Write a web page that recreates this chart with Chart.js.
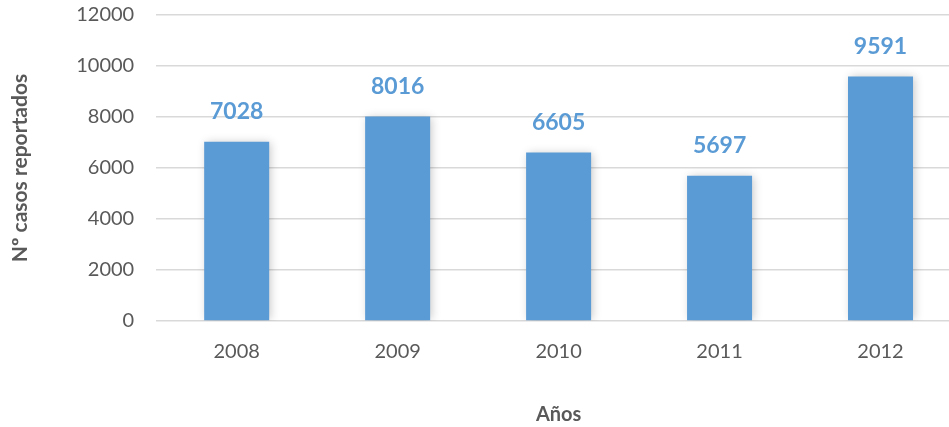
<!DOCTYPE html>
<html>
<head>
<meta charset="utf-8">
<script src="https://cdn.jsdelivr.net/npm/chart.js@4"></script>
<style>
  html, body { margin: 0; padding: 0; background: #fff; }
  #wrap { width: 949px; height: 427px; overflow: hidden; position: relative; }
  #inner { position: absolute; left: 0; top: -19px; width: 965px; height: 446px; }
</style>
</head>
<body>
<div id="wrap"><div id="inner"><canvas id="chart"></canvas></div></div>
<script>
// data
const years = ["2008", "2009", "2010", "2011", "2012"];
const casos = [7028, 8016, 6605, 5697, 9591];
const yTicks = [0, 2000, 4000, 6000, 8000, 10000, 12000];

const barColor = "#5B9BD5";
const textColor = "#595959";
const fontFamily = "Lato, 'Open Sans', sans-serif";

// soft shadow behind the bars
const barShadow = {
  id: "barShadow",
  beforeDatasetsDraw(chart) {
    const ctx = chart.ctx;
    ctx.save();
    ctx.shadowColor = "rgba(0,0,0,0.22)";
    ctx.shadowBlur = 9;
    ctx.shadowOffsetX = 2;
    ctx.shadowOffsetY = 0;
  },
  afterDatasetsDraw(chart) {
    chart.ctx.restore();
  },
};

// value labels above bars
const valueLabels = {
  id: "valueLabels",
  afterDatasetsDraw(chart) {
    const ctx = chart.ctx;
    const meta = chart.getDatasetMeta(0);
    ctx.save();
    ctx.fillStyle = barColor;
    ctx.font = "bold 23px " + fontFamily;
    ctx.textAlign = "center";
    ctx.textBaseline = "middle";
    meta.data.forEach((bar, i) => {
      ctx.fillText(String(casos[i]), bar.x, bar.y - 30);
    });
    ctx.restore();
  },
};

new Chart(document.getElementById("chart"), {
  type: "bar",
  data: {
    labels: years,
    datasets: [
      {
        data: casos,
        backgroundColor: barColor,
        barPercentage: 0.8,
        categoryPercentage: 0.505,
      },
    ],
  },
  options: {
    responsive: true,
    maintainAspectRatio: false,
    animation: false,
    layout: { padding: { top: 0, right: 4, left: 8, bottom: 0 } },
    plugins: {
      legend: { display: false },
      tooltip: { enabled: false },
    },
    scales: {
      x: {
        grid: { display: false },
        border: { display: false },
        ticks: { color: textColor, font: { family: fontFamily, size: 20 }, padding: 11 },
        title: {
          display: true,
          text: "Años",
          color: textColor,
          font: { family: fontFamily, size: 20, weight: "bold" },
          padding: { top: 28, bottom: 0 },
        },
      },
      y: {
        min: 0,
        max: 12000,
        afterBuildTicks(axis) {
          axis.ticks = yTicks.map((v) => ({ value: v }));
        },
        grid: { color: "#d9d9d9", lineWidth: 1.5, drawTicks: false },
        border: { display: false },
        ticks: {
          color: textColor,
          font: { family: fontFamily, size: 20 },
          padding: 22,
          callback: (v) => String(v),
        },
        title: {
          display: true,
          text: "Nº casos reportados",
          color: textColor,
          font: { family: fontFamily, size: 21, weight: "bold" },
          padding: { top: 0, bottom: 21 },
        },
      },
    },
  },
  plugins: [barShadow, valueLabels],
});
</script>
</body>
</html>
